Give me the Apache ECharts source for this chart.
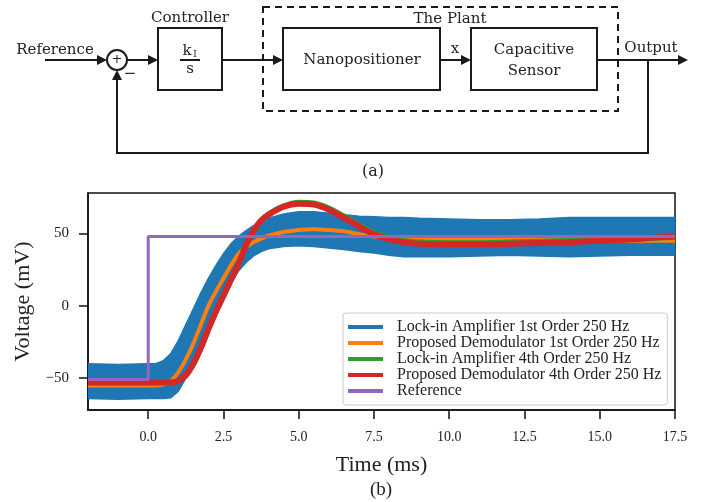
<!DOCTYPE html>
<html>
<head>
<meta charset="utf-8">
<script src="https://cdn.jsdelivr.net/npm/echarts@6/dist/echarts.min.js"></script>
<style>
html, body { margin: 0; padding: 0; background: #fff; }
#chart { width: 701px; height: 502px; }
</style>
</head>
<body>
<div id="chart"></div>
<script>
// legend names
var seriesNames = [
	'Lock-in Amplifier 1st Order 250 Hz',
	'Proposed Demodulator 1st Order 250 Hz',
	'Lock-in Amplifier 4th Order 250 Hz',
	'Proposed Demodulator 4th Order 250 Hz',
	'Reference'
];
var xTicks = [0, 2.5, 5, 7.5, 10, 12.5, 15, 17.5];
var yTicks = [-50, 0, 50];

// time axis (ms) shared by the measured curves
var timeMs = [-2, -1, 0, 0.25, 0.5, 0.75, 1, 1.25, 1.5, 1.75, 2, 2.25, 2.5, 2.75, 3, 3.25, 3.5, 3.75, 4, 4.5, 5, 5.5, 6, 6.5, 7, 7.5, 8, 8.5, 9, 10, 11, 12, 13, 14, 15, 16, 17, 17.5];
// lock-in 1st order : noisy band, lower / upper edge (mV)
var blueLow = [-64, -64.5, -64, -64, -64, -63.5, -59, -50, -39, -27, -14, -3, 7, 16, 24, 30, 34.5, 37.5, 39.5, 41, 41.5, 41, 40, 39, 37.5, 36.5, 35, 34, 34, 34, 34.5, 35, 34.5, 34, 34.5, 35, 35, 35];
var blueHigh = [-40, -40.5, -40, -40, -38, -33, -24, -13, -2, 9, 19, 28, 36, 43, 48, 52, 55.5, 58.5, 60.5, 63.5, 65, 65, 64, 63, 62, 61.5, 61, 61, 60.5, 60, 59.5, 59.5, 60, 61, 61, 61, 61, 61];
// proposed 1st order
var orangeV = [-55, -55, -55, -55, -54.5, -52, -46, -37, -26, -13, 0, 10, 19, 28, 36, 40.5, 44, 46.5, 48.5, 51, 52.5, 53, 52.5, 51.5, 49.5, 48, 47, 46.5, 46.5, 46, 46, 46, 45.5, 45.5, 45.5, 45, 45, 45];
// lock-in 4th order
var greenV = [-53, -53, -53, -53, -53, -53, -52, -48, -40, -29, -16, -4, 7, 18, 29, 42, 52, 59, 63.5, 69, 71.5, 71, 67.5, 62, 56, 50.5, 47, 45, 44, 43.5, 43.5, 44, 44.5, 45, 45.5, 46, 47, 47.5];
// proposed 4th order
var redV = [-53, -53, -53, -53, -53, -53, -52, -48, -40, -29, -16, -4, 7, 18, 29, 42, 52, 59, 63, 68.5, 70.5, 70, 66.5, 61, 55, 49.5, 46, 44, 43, 42.5, 42.5, 43, 43.5, 44, 45, 46, 47.5, 48];
// reference step
var refTime = [-2, 0, 0, 17.5];
var refV = [-51, -51, 48, 48];

function pairs(xs, ys) {
	var out = [];
	for (var i = 0; i < xs.length; i++) {
		out.push([xs[i], ys[i]]);
	}
	return out;
}

// band between blueLow and blueHigh, one polygon through the axes' scales
function renderBand(params, api) {
	if (params.dataIndex !== 0) {
		return;
	}
	var pts = [];
	for (var i = 0; i < timeMs.length; i++) {
		pts.push(api.coord([timeMs[i], blueHigh[i]]));
	}
	for (var j = timeMs.length - 1; j >= 0; j--) {
		pts.push(api.coord([timeMs[j], blueLow[j]]));
	}
	return {
		type: 'polygon',
		shape: { points: pts },
		style: { fill: '#1f77b4', stroke: '#1f77b4', lineWidth: 1.5 }
	};
}

var ink = '#1a1a1a';
var diaFont = 'DejaVu Serif';
function seg(x1, y1, x2, y2) {
	return { type: 'line', shape: { x1: x1, y1: y1, x2: x2, y2: y2 }, style: { stroke: ink, lineWidth: 2 } };
}
function headRight(x, y) {
	return { type: 'polygon', shape: { points: [[x, y], [x - 10, y - 5], [x - 10, y + 5]] }, style: { fill: ink } };
}
function headUp(x, y) {
	return { type: 'polygon', shape: { points: [[x, y], [x - 5, y + 10], [x + 5, y + 10]] }, style: { fill: ink } };
}
function box(x, y, w, h, dash) {
	return { type: 'rect', shape: { x: x, y: y, width: w, height: h }, style: { fill: null, stroke: ink, lineWidth: 2, lineDash: dash ? [7, 5] : null } };
}
function label(x, y, txt, size, family) {
	return { type: 'text', x: x, y: y, style: { text: txt, fontSize: size || 15, fontFamily: family || diaFont, fill: '#222', align: 'center', verticalAlign: 'middle' } };
}

// block diagram (a)
var diagram = [
	box(263, 7, 355, 104, true),
	label(450, 19, 'The Plant'),
	label(55, 50, 'Reference'),
	seg(45, 60, 104, 60), headRight(107, 60),
	{ type: 'circle', shape: { cx: 117, cy: 60, r: 10 }, style: { fill: null, stroke: ink, lineWidth: 2 } },
	label(117, 60, '+', 13),
	label(130, 74, '\u2212', 15),
	seg(127, 60, 155, 60), headRight(158, 60),
	box(158, 28, 64, 62),
	label(190, 18, 'Controller'),
	label(187, 51, 'k', 15),
	label(195, 55, 'I', 9),
	seg(180, 60, 200, 60),
	label(190, 69, 's', 15),
	seg(222, 60, 280, 60), headRight(283, 60),
	box(283, 28, 157, 62),
	label(362, 60, 'Nanopositioner'),
	seg(440, 60, 468, 60), headRight(471, 60),
	label(455, 49, 'x'),
	box(471, 28, 126, 62),
	label(534, 50, 'Capacitive'),
	label(534, 71, 'Sensor'),
	seg(597, 60, 680, 60), headRight(688, 60),
	label(651, 48, 'Output'),
	{ type: 'polyline', shape: { points: [[648, 60], [648, 153], [117, 153], [117, 80]] }, style: { fill: null, stroke: ink, lineWidth: 2 } },
	headUp(117, 70),
	label(373, 172, '(a)', 16),
	label(381, 490, '(b)', 19, 'Liberation Serif')
];

var serif = 'Liberation Serif';
var options = {
	animation: false,
	backgroundColor: '#fff',
	graphic: diagram,
	grid: {
		left: 88, top: 193, right: 26, bottom: 92,
		show: true, borderColor: '#111', borderWidth: 1.5, backgroundColor: 'transparent'
	},
	legend: {
		orient: 'vertical',
		left: 343, top: 313,
		padding: [6, 6, 6, 5],
		itemWidth: 35, itemHeight: 4, itemGap: 0,
		icon: 'rect',
		borderColor: '#cccccc', borderWidth: 1, borderRadius: 3,
		backgroundColor: 'rgba(255,255,255,0.8)',
		data: seriesNames,
		textStyle: { fontFamily: serif, fontSize: 16, lineHeight: 15, color: '#222', padding: [0, 0, 0, 9] }
	},
	xAxis: {
		type: 'value', min: -2, max: 17.5,
		name: 'Time (ms)', nameLocation: 'middle', nameGap: 44,
		nameTextStyle: { fontFamily: serif, fontSize: 22, color: '#222' },
		axisLine: { show: true, onZero: false, lineStyle: { color: '#111', width: 1.5 } },
		axisTick: { show: true, length: 9, customValues: xTicks, lineStyle: { color: '#111', width: 1.5 } },
		axisLabel: {
			customValues: xTicks, margin: 20, fontFamily: serif, fontSize: 14, color: '#222',
			formatter: function(v) { return Number(v).toFixed(1); }
		},
		splitLine: { show: false }
	},
	yAxis: {
		type: 'value', min: -72, max: 78,
		name: 'Voltage (mV)', nameLocation: 'middle', nameGap: 45,
		nameTextStyle: { fontFamily: serif, fontSize: 22, color: '#222' },
		axisLine: { show: true, onZero: false, lineStyle: { color: '#111', width: 1.5 } },
		axisTick: { show: true, length: 9, customValues: yTicks, lineStyle: { color: '#111', width: 1.5 } },
		axisLabel: {
			customValues: yTicks, margin: 19, fontFamily: serif, fontSize: 15, color: '#222',
			formatter: function(v) { return v < 0 ? '\u2212' + Math.abs(v) : String(v); }
		},
		splitLine: { show: false }
	},
	series: [
		{
			name: seriesNames[0], type: 'custom', clip: true,
			data: pairs(timeMs, blueLow),
			encode: { x: 0, y: 1 },
			renderItem: renderBand,
			itemStyle: { color: '#1f77b4' }
		},
		{
			name: seriesNames[1], type: 'line', smooth: 0.3, showSymbol: false,
			data: pairs(timeMs, orangeV),
			lineStyle: { color: '#ff7f0e', width: 4 },
			itemStyle: { color: '#ff7f0e' }
		},
		{
			name: seriesNames[2], type: 'line', smooth: 0.3, showSymbol: false,
			data: pairs(timeMs, greenV),
			lineStyle: { color: '#2ca02c', width: 5.5 },
			itemStyle: { color: '#2ca02c' }
		},
		{
			name: seriesNames[3], type: 'line', smooth: 0.3, showSymbol: false,
			data: pairs(timeMs, redV),
			lineStyle: { color: '#d62728', width: 6 },
			itemStyle: { color: '#d62728' }
		},
		{
			name: seriesNames[4], type: 'line', showSymbol: false,
			data: pairs(refTime, refV),
			lineStyle: { color: '#9467bd', width: 3 },
			itemStyle: { color: '#9467bd' }
		}
	]
};

var myChart = echarts.init(document.getElementById('chart'));
myChart.setOption(options);
</script>
</body>
</html>
